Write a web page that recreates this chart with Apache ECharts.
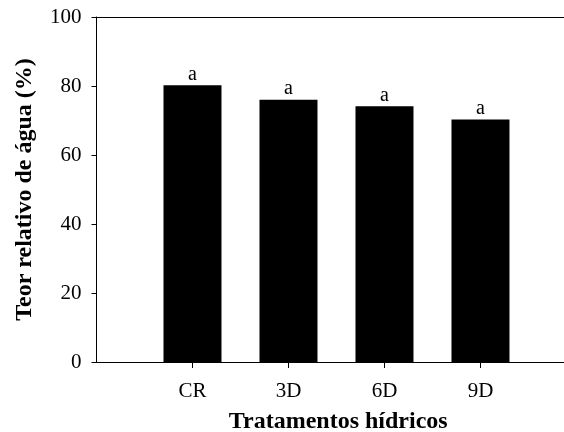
<!DOCTYPE html>
<html>
<head>
<meta charset="utf-8">
<script src="https://cdn.jsdelivr.net/npm/echarts@6/dist/echarts.min.js"></script>
<style>html,body{margin:0;padding:0;background:#fff}#c{width:564px;height:432px}</style>
</head>
<body>
<div id="c"></div>
<script>
const categories = ['CR', '3D', '6D', '9D'];
const values = [80.2, 76.0, 74.1, 70.3];
const letters = ['a', 'a', 'a', 'a'];
const yTicks = [0, 20, 40, 60, 80, 100];

const chart = echarts.init(document.getElementById('c'), null, {renderer: 'canvas'});
const serif = '"Liberation Serif", "Times New Roman", serif';
chart.setOption({
  animation: false,
  backgroundColor: '#fff',
  grid: {left: 96.5, top: 17, right: 0, height: 345, containLabel: false, outerBoundsMode: 'none'},
  xAxis: [{
    type: 'value', min: 0, max: 4.87, interval: 1,
    name: 'Tratamentos hídricos', nameLocation: 'middle', nameGap: 48,
    nameTextStyle: {fontFamily: serif, fontWeight: 'bold', fontSize: 24, color: '#000', padding: [0, 0, 0, 16]},
    axisLine: {show: true, onZero: false, lineStyle: {color: '#000', width: 1}},
    axisTick: {show: true, inside: false, length: 6, customValues: [1, 2, 3, 4], lineStyle: {color: '#000'}},
    axisLabel: {customValues: [1, 2, 3, 4], formatter: v => categories[v - 1] || '', fontFamily: serif, fontSize: 21, color: '#000', margin: 19},
    splitLine: {show: false}
  }, {
    type: 'value', min: 0, max: 4.87, position: 'top',
    axisLine: {show: true, onZero: false, lineStyle: {color: '#000', width: 1}},
    axisTick: {show: false}, axisLabel: {show: false}, splitLine: {show: false}
  }],
  yAxis: {
    type: 'value', min: 0, max: 100, interval: 20,
    name: 'Teor relativo de água (%)', nameLocation: 'middle', nameGap: 60,
    nameTextStyle: {fontFamily: serif, fontWeight: 'bold', fontSize: 24, color: '#000'},
    axisLine: {show: true, lineStyle: {color: '#000', width: 1}},
    axisTick: {show: true, length: 5, lineStyle: {color: '#000'}},
    axisLabel: {formatter: v => yTicks.includes(v) ? String(v) : '', fontFamily: serif, fontSize: 21, color: '#000', margin: 15},
    splitLine: {show: false}
  },
  series: [{
    type: 'bar',
    data: values.map((v, i) => [i + 1, v]),
    barWidth: 58,
    itemStyle: {color: '#000'},
    label: {show: true, position: 'top', distance: 1, formatter: p => letters[p.dataIndex], fontFamily: serif, fontSize: 20, color: '#000'}
  }]
});
</script>
</body>
</html>
